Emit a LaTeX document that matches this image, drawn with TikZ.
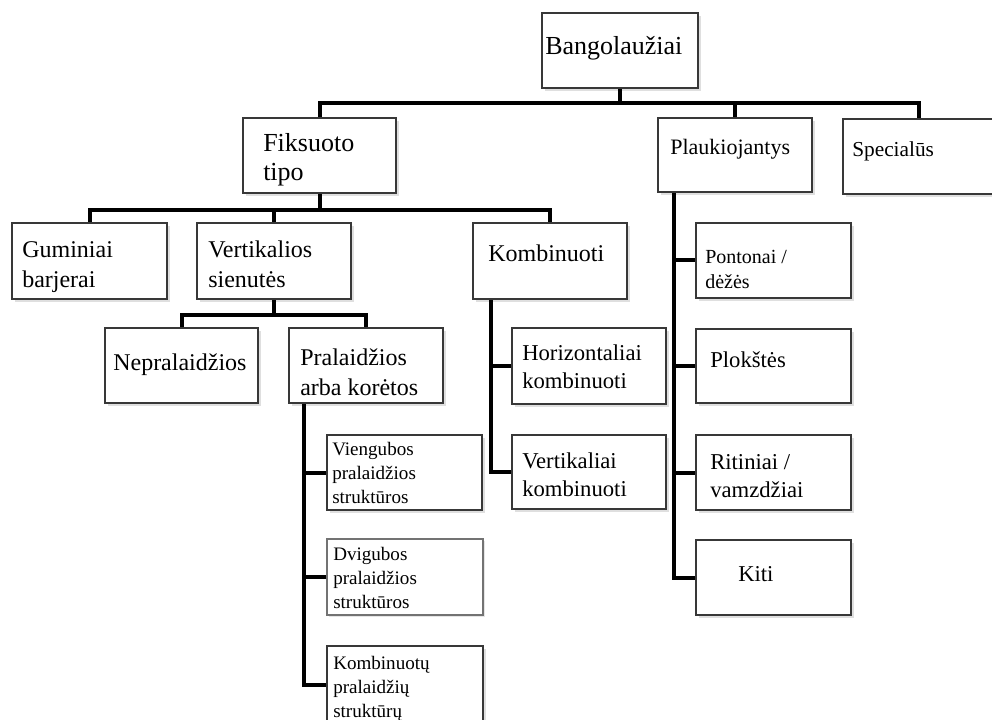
\documentclass[tikz,border=0pt]{standalone}
\usepackage{fontspec}
\setmainfont{Liberation Serif}
\usetikzlibrary{calc,shadows}
\begin{document}
\begin{tikzpicture}[x=0.75pt,y=-0.75pt,
  box/.style={draw=black!78, line width=2.2pt, fill=white, inner sep=0pt,
    drop shadow={opacity=0.25, shadow xshift=2pt, shadow yshift=-2pt}},
  thinbox/.style={draw=black!55, line width=0.9pt, fill=white, inner sep=0pt,
    drop shadow={opacity=0.2, shadow xshift=1.6pt, shadow yshift=-1.6pt}},
  conn/.style={draw=black, line width=3pt},
  txt/.style={anchor=base west, inner sep=0pt, align=left, text=black},
  big/.style={font=\fontsize{19.5}{21.8}\selectfont},
  mid/.style={font=\fontsize{18}{22.5}\selectfont},
  med/.style={font=\fontsize{17}{20.3}\selectfont},
  sml/.style={font=\fontsize{14.3}{18}\selectfont}]
\clip (0,0) rectangle (992,720);
\fill[white] (0,0) rectangle (992,720);
% boxes: (x1,y1)-(x2,y2) in px
\newcommand{\bx}[6][box]{\node[#1, minimum width={(#4-#2)*0.75pt}, minimum height={(#5-#3)*0.75pt}] (#6) at ({(#2+#4)/2},{(#3+#5)/2}) {};}
\bx{542}{13}{698}{88}{bang}
\bx{243}{118}{396}{193}{fiks}
\bx{658}{118}{812}{192}{plauk}
\bx{843}{119}{994}{194}{spec}
\bx{12}{223}{167}{299}{gum}
\bx{197}{223}{351}{299}{vert}
\bx{473}{223}{627}{299}{komb}
\bx{105}{328}{258}{403}{nepr}
\bx{289}{328}{443}{403}{pral}
\bx{327}{435}{482}{510}{vieng}
\bx[thinbox]{327}{539}{483}{615}{dvig}
\bx{327}{646}{483}{724}{kombp}
\bx{512}{328}{666}{404}{horiz}
\bx{512}{435}{666}{509}{vertk}
\bx{696}{223}{851}{298}{pont}
\bx{696}{329}{851}{403}{plok}
\bx{696}{435}{851}{510}{rit}
\bx{696}{540}{851}{615}{kiti}
% texts (anchor: baseline of the last line)
\node[txt,big] (t-bang) at (545,55) {Bangolaužiai};
\node[txt,big] (t-fiks) at (263,181) {Fiksuoto\\tipo};
\node[txt,font=\fontsize{16.5}{20}\selectfont] (t-plauk) at (670,155) {Plaukiojantys};
\node[txt,font=\fontsize{16}{20}\selectfont] (t-spec) at (852,157) {Specialūs};
\node[txt,mid] (t-gum) at (22,287) {Guminiai\\barjerai};
\node[txt,mid] (t-vert) at (208,287) {Vertikalios\\sienutės};
\node[txt,mid] (t-komb) at (488,262) {Kombinuoti};
\node[txt,mid] (t-nepr) at (113,370) {Nepralaidžios};
\node[txt,mid] (t-pral) at (300,395) {Pralaidžios\\arba korėtos};
\node[txt,sml] (t-vieng) at (332,503) {Viengubos\\pralaidžios\\struktūros};
\node[txt,sml] (t-dvig) at (333,608) {Dvigubos\\pralaidžios\\struktūros};
\node[txt,sml] (t-kombp) at (333,717) {Kombinuotų\\pralaidžių\\struktūrų};
\node[txt,med] (t-horiz) at (522,388) {Horizontaliai\\kombinuoti};
\node[txt,med] (t-vertk) at (522,496) {Vertikaliai\\kombinuoti};
\node[txt,font=\fontsize{15}{19.5}\selectfont] (t-pont) at (705,289) {Pontonai /\\dėžės};
\node[txt,med] (t-plok) at (710,367) {Plokštės};
\node[txt,med] (t-rit) at (710,497) {Ritiniai /\\vamzdžiai};
\node[txt,med] (t-kiti) at (738,581) {Kiti};
% bus levels
\coordinate (b1) at (0,103);
\coordinate (b2) at (0,210);
\coordinate (b3) at (0,315);
% connectors
\draw[conn] (bang.south) -- (bang.south |- b1);
\draw[conn] (fiks.north) -- (fiks.north |- b1) -- (spec.north |- b1) -- (spec.north);
\draw[conn] (plauk.north) -- (plauk.north |- b1);
\draw[conn] (fiks.south) -- (fiks.south |- b2);
\draw[conn] (gum.north) -- (gum.north |- b2) -- (komb.north |- b2) -- (komb.north);
\draw[conn] (vert.north) -- (vert.north |- b2);
\draw[conn] (vert.south) -- (vert.south |- b3);
\draw[conn] (nepr.north) -- (nepr.north |- b3) -- (pral.north |- b3) -- (pral.north);
% spines
\coordinate (s1) at ($(pral.south west)+(16,0)$);
\draw[conn] (s1) |- (kombp.west);
\draw[conn] (vieng.west) -- (vieng.west -| s1);
\draw[conn] (dvig.west) -- (dvig.west -| s1);
\coordinate (s2) at ($(komb.south west)+(19,0)$);
\draw[conn] (s2) |- (vertk.west);
\draw[conn] (horiz.west) -- (horiz.west -| s2);
\coordinate (s3) at ($(plauk.south west)+(17,0)$);
\draw[conn] (s3) |- (kiti.west);
\draw[conn] (pont.west) -- (pont.west -| s3);
\draw[conn] (plok.west) -- (plok.west -| s3);
\draw[conn] (rit.west) -- (rit.west -| s3);
\end{tikzpicture}
\end{document}
